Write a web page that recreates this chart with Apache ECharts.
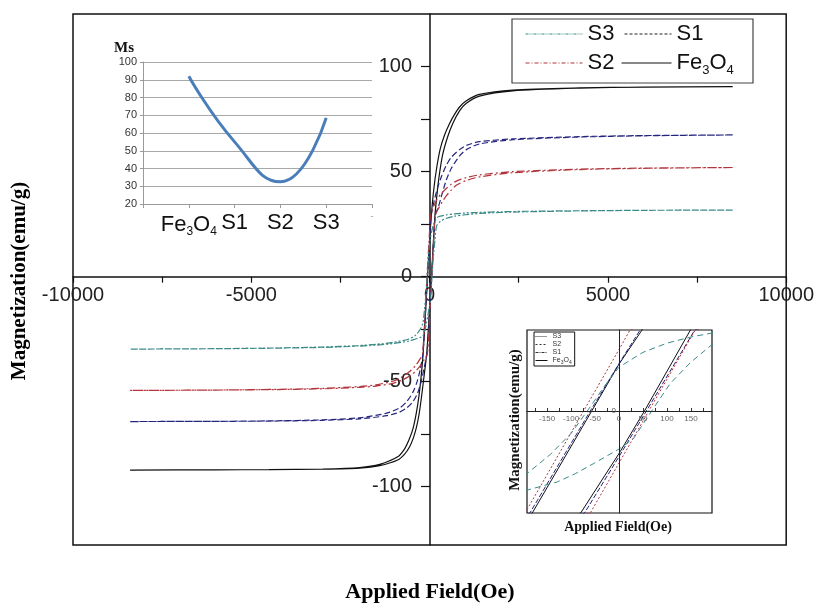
<!DOCTYPE html>
<html>
<head>
<meta charset="utf-8">
<script src="https://cdn.jsdelivr.net/npm/echarts@6/dist/echarts.min.js"></script>
<style>
  html, body { margin: 0; padding: 0; background: #fff; }
  #chart { width: 817px; height: 610px; }
</style>
</head>
<body>
<div id="chart"></div>
<script>
  // hysteresis loops: [field (Oe), magnetization (emu/g)]
  // "down" = field sweeping from + to -, "up" = field sweeping from - to +
  const fe3o4Down = [[8500, 90.5], [6000, 90.3], [4200, 89.9], [2330, 88.9], [1400, 86.8], [1030, 83.8], [840, 80.8], [700, 77.3], [560, 73], [420, 67.5], [300, 61], [200, 52], [120, 42], [48, 29], [0, 16.8], [-57, 0], [-181, -36.5], [-240, -48], [-300, -57], [-373, -65], [-460, -72], [-560, -77], [-700, -82], [-896, -85.8], [-1400, -89.4], [-1960, -90.9], [-3000, -91.6], [-4500, -91.9], [-6000, -92], [-8400, -92.1]]
  const fe3o4Up = [[-8400, -92.1], [-6000, -92], [-4500, -91.9], [-3000, -91.7], [-1960, -91.2], [-1400, -90], [-896, -87.3], [-700, -84.5], [-560, -81], [-460, -77], [-373, -72], [-300, -66], [-240, -59], [-160, -48], [-80, -36.5], [0, -15.2], [53, 0], [149, 29], [200, 38], [260, 47], [365, 58], [505, 66.5], [650, 73], [840, 79], [1030, 82.6], [1400, 86], [2330, 88.5], [4200, 89.8], [6000, 90.3], [8500, 90.5]]

  const s1Down = [[8500, 67.5], [6000, 67.2], [4200, 66.7], [2330, 65.6], [1400, 64.3], [1030, 62.5], [840, 60.5], [607, 56.8], [467, 53], [327, 47.5], [200, 41], [100, 34], [44, 29], [0, 17], [-60, 0], [-186, -36.5], [-260, -44], [-350, -50], [-467, -55], [-640, -59.5], [-840, -62.5], [-1200, -65], [-1960, -67.2], [-3000, -68.2], [-4500, -68.7], [-6000, -68.9], [-8400, -69]]
  const s1Up = [[-8400, -69], [-6000, -68.9], [-4500, -68.8], [-3000, -68.4], [-1960, -67.7], [-1200, -66.2], [-840, -64.5], [-640, -62.5], [-467, -59.5], [-350, -56], [-260, -51.5], [-160, -44], [-72, -36.5], [0, -16.3], [57, 0], [158, 29], [252, 33.5], [327, 38], [467, 46], [607, 51.5], [840, 57.5], [1030, 60.5], [1400, 63.2], [2330, 65.2], [4200, 66.5], [6000, 67.1], [8500, 67.5]]

  const s2Down = [[8500, 52], [6000, 51.7], [4200, 51.2], [2330, 50], [1400, 48.5], [1030, 47.2], [750, 45.5], [607, 44], [467, 42], [300, 39], [200, 36.5], [100, 33], [23, 29], [0, 22], [-74, 0], [-196, -36.5], [-280, -39.5], [-400, -42.5], [-560, -45.2], [-800, -48], [-1030, -49.8], [-1500, -51.5], [-1960, -52.3], [-3000, -53.2], [-4500, -53.7], [-6000, -54], [-8400, -54.2]]
  const s2Up = [[-8400, -54.2], [-6000, -54], [-4500, -53.8], [-3000, -53.4], [-1960, -52.7], [-1500, -52.1], [-1030, -50.8], [-800, -49.5], [-560, -47.3], [-400, -45.2], [-280, -42.8], [-150, -39.5], [-60, -36.5], [0, -18.6], [62, 0], [159, 29], [250, 32.5], [350, 35.5], [467, 38.5], [607, 41.2], [750, 43.5], [1030, 45.8], [1400, 47.5], [2330, 49.5], [4200, 51], [6000, 51.6], [8500, 52]]

  const s3Down = [[8500, 31.7], [6000, 31.6], [4200, 31.4], [3000, 31.2], [2000, 30.9], [1400, 30.6], [1000, 30.3], [700, 29.9], [467, 29.4], [300, 28.8], [197, 28], [150, 26.5], [100, 24.3], [50, 21], [0, 15.7], [-30, 9], [-60, 1.5], [-100, -8], [-143, -15.5], [-192, -22.4], [-280, -25.5], [-400, -28], [-600, -29.8], [-1030, -31.3], [-1500, -32.2], [-2000, -32.8], [-3000, -33.5], [-4500, -34], [-6000, -34.3], [-8400, -34.5]]
  const s3Up = [[-8400, -34.5], [-6000, -34.3], [-4500, -34.1], [-3000, -33.7], [-2000, -33.1], [-1500, -32.6], [-1030, -31.9], [-600, -30.7], [-400, -29.7], [-280, -29], [-192, -28.3], [-129, -25.4], [-91, -22.4], [-53, -18.8], [0, -13.6], [30, -9.9], [68, 0], [107, 9.9], [150, 17.5], [197, 24.2], [300, 26.3], [467, 27.8], [700, 28.8], [1000, 29.5], [1400, 30.1], [2000, 30.6], [3000, 31], [4200, 31.3], [6000, 31.6], [8500, 31.7]]

  // Ms inset (top left)
  const msCategories = ['Fe3O4', 'S1', 'S2', 'S3']
  const msValues = [92, 55, 32.5, 68.5]

  // ticks / labels
  const mainYTicks = [-100, -75, -50, -25, 0, 25, 50, 75, 100]
  const mainYLabels = [-100, -50, 0, 50, 100]
  const insetXTicks = [-175, -150, -125, -100, -75, -50, -25, 0, 25, 50, 75, 100, 125, 150, 175]
  const insetXLabels = [-150, -100, -50, 0, 50, 100, 150]
  const insetYLabels = [0]

  const sans = 'Liberation Sans'

  const col = { fe: '#111111', s1: '#24247e', s2: '#b2343c', s3: '#3a8a86' }

  const chart = echarts.init(document.getElementById('chart'))

  function subName(name) {
    return name === 'Fe3O4' ? '{n|Fe}{s|3}{n|O}{s|4}' : '{n|' + name + '}'
  }

  function loop(down, up) {
    return down.concat(up)
  }

  const loops = [
    { name: 'Fe3O4', data: loop(fe3o4Down, fe3o4Up), color: col.fe, main: 'solid', inset: 'solid' },
    { name: 'S1', data: loop(s1Down, s1Up), color: col.s1, main: [6, 3], inset: [5, 2] },
    { name: 'S2', data: loop(s2Down, s2Up), color: col.s2, main: [8, 3, 2, 3], inset: [2, 2] },
    { name: 'S3', data: loop(s3Down, s3Up), color: col.s3, main: [7, 2, 2, 2, 2, 2], inset: [6, 4] }
  ]

  const series = []
  loops.forEach(l => {
    series.push({
      name: l.name, type: 'line', xAxisIndex: 0, yAxisIndex: 0,
      data: l.data, symbol: 'none', smooth: 0.25,
      itemStyle: { color: l.color },
      lineStyle: { color: l.color, width: 1.2, type: l.main }
    })
    series.push({
      name: l.name, type: 'line', xAxisIndex: 1, yAxisIndex: 1,
      data: l.data, symbol: 'none', clip: true, z: 5,
      itemStyle: { color: l.color },
      lineStyle: { color: l.color, width: 1, type: l.inset }
    })
  })
  series.push({
    name: 'Ms', type: 'line', xAxisIndex: 2, yAxisIndex: 2,
    data: ['-'].concat(msValues, ['-']),
    symbol: 'none', smooth: 0.5,
    lineStyle: { color: '#4a7ebb', width: 3 }
  })

  const legendText = {
    fontFamily: sans,
    rich: {
      n: { fontSize: 22, color: '#111', fontFamily: sans },
      s: { fontSize: 13, color: '#111', fontFamily: sans, padding: [14, 0, 0, 0] }
    }
  }

  // one legend per entry of the big legend box so every sample line can have its own length
  function bigLegend(name, left, top, width, lineStyle) {
    return {
      left: left, top: top, itemWidth: width, itemHeight: 14, padding: 0,
      selectedMode: false, itemStyle: { opacity: 0 },
      data: [{ name: name, lineStyle: lineStyle }],
      formatter: subName, textStyle: legendText
    }
  }

  const option = {
    animation: false,
    backgroundColor: '#fff',
    grid: [
      { left: 73, top: 14, width: 714, height: 531, show: true, borderColor: '#111', borderWidth: 1.5, backgroundColor: 'transparent' },
      { left: 527, top: 330, width: 185, height: 183, show: true, borderColor: '#111', borderWidth: 1.2, backgroundColor: '#fff', z: 3 },
      { left: 143, top: 62, width: 229, height: 142, show: false }
    ],
    xAxis: [
      {
        // axis drawn across the middle of the frame (at y = 0)
        gridIndex: 0, type: 'value', min: -10000, max: 10000, interval: 2500, offset: -268.3,
        axisLine: { onZero: false, lineStyle: { color: '#111', width: 1.5 } },
        axisTick: { length: 6, lineStyle: { color: '#111', width: 1.2 } },
        axisLabel: {
          fontSize: 20, color: '#222', fontFamily: sans, margin: 9,
          formatter: v => (v % 5000 === 0 ? String(v) : '')
        },
        splitLine: { show: false }
      },
      {
        gridIndex: 1, type: 'value', min: -192, max: 194, z: 6, offset: -102,
        axisLine: { onZero: false, lineStyle: { color: '#222', width: 1 } },
        axisTick: { customValues: insetXTicks, inside: true, length: 3, lineStyle: { color: '#333' } },
        axisLabel: { customValues: insetXLabels, fontSize: 8, color: '#666', fontFamily: sans, margin: 4 },
        splitLine: { show: false }
      },
      {
        gridIndex: 2, type: 'category', boundaryGap: false,
        data: [''].concat(msCategories, ['-']),
        axisLine: { lineStyle: { color: '#9a9a9a' } },
        axisTick: { show: true, length: 4, lineStyle: { color: '#9a9a9a' } },
        axisLabel: {
          interval: 0, margin: 8,
          formatter: v => (v === '-' ? '{d|-}' : subName(v)),
          rich: {
            n: { fontSize: 22, color: '#111', fontFamily: sans },
            s: { fontSize: 12, color: '#111', fontFamily: sans, padding: [14, 0, 0, 0] },
            d: { fontSize: 9, color: '#999', fontFamily: sans }
          }
        }
      }
    ],
    yAxis: [
      {
        gridIndex: 0, type: 'value', min: -127.8, max: 125.1, offset: -357,
        axisLine: { onZero: false, lineStyle: { color: '#111', width: 1.5 } },
        axisTick: { customValues: mainYTicks, length: 9, lineStyle: { color: '#111', width: 1.2 } },
        axisLabel: { customValues: mainYLabels, fontSize: 20, color: '#222', fontFamily: sans, margin: 18 },
        splitLine: { show: false }
      },
      {
        gridIndex: 1, type: 'value', min: -36.5, max: 29, z: 6, offset: -92,
        axisLine: { onZero: false, lineStyle: { color: '#222', width: 1 } },
        axisTick: { show: false },
        axisLabel: { customValues: insetYLabels, fontSize: 8, color: '#555', fontFamily: sans, margin: 3 },
        splitLine: { show: false }
      },
      {
        gridIndex: 2, type: 'value', min: 20, max: 100, interval: 10,
        axisLine: { show: true, lineStyle: { color: '#9a9a9a' } },
        axisTick: { show: true, length: 3, lineStyle: { color: '#9a9a9a' } },
        axisLabel: { fontSize: 11, color: '#333', fontFamily: sans, margin: 6 },
        splitLine: { lineStyle: { color: '#a8a8a8', width: 1 } }
      }
    ],
    legend: [
      bigLegend('S3', 525, 23, 57, { color: col.s3, type: [3, 1, 1, 1, 1, 1], width: 1 }),
      bigLegend('S1', 624, 23, 47, { color: '#222', type: [3, 2], width: 1 }),
      bigLegend('S2', 525, 52, 57, { color: col.s2, type: [4, 2, 1, 2], width: 1 }),
      bigLegend('Fe3O4', 621, 52, 50, { color: '#111', type: 'solid', width: 1 }),
      {
        orient: 'vertical', left: 534, top: 332, itemWidth: 12, itemHeight: 6, itemGap: 1,
        padding: [1, 3, 1, 1], borderColor: '#111', borderWidth: 1, backgroundColor: '#fff',
        selectedMode: false, z: 8, itemStyle: { opacity: 0 },
        data: [
          { name: 'S3', lineStyle: { color: '#333', type: [1, 1], width: 1 } },
          { name: 'S2', lineStyle: { color: '#333', type: [2, 2], width: 1 } },
          { name: 'S1', lineStyle: { color: '#333', type: [3, 1, 1, 1], width: 1 } },
          { name: 'Fe3O4', lineStyle: { color: '#111', type: 'solid', width: 1 } }
        ],
        formatter: subName,
        textStyle: {
          rich: {
            n: { fontSize: 7, color: '#333', fontFamily: sans },
            s: { fontSize: 5, color: '#333', fontFamily: sans, padding: [4, 0, 0, 0] }
          }
        }
      }
    ],
    graphic: [
      {
        type: 'rect', z: 10, silent: true,
        shape: { x: 512, y: 19, width: 241, height: 64 },
        style: { fill: 'none', stroke: '#444', lineWidth: 1.2 }
      },
      {
        type: 'text', x: 20, y: 281, rotation: Math.PI / 2, z: 10,
        style: { text: 'Magnetization(emu/g)', font: 'bold 21px "Liberation Serif"', fill: '#000', align: 'center', verticalAlign: 'middle' }
      },
      {
        type: 'text', x: 430, y: 592, z: 10,
        style: { text: 'Applied Field(Oe)', font: 'bold 22px "Liberation Serif"', fill: '#000', align: 'center', verticalAlign: 'middle' }
      },
      {
        type: 'text', x: 515, y: 420, rotation: Math.PI / 2, z: 10,
        style: { text: 'Magnetization(emu/g)', font: 'bold 15px "Liberation Serif"', fill: '#111', align: 'center', verticalAlign: 'middle' }
      },
      {
        type: 'text', x: 618, y: 527, z: 10,
        style: { text: 'Applied Field(Oe)', font: 'bold 14px "Liberation Serif"', fill: '#111', align: 'center', verticalAlign: 'middle' }
      },
      {
        type: 'text', x: 124, y: 48, z: 10,
        style: { text: 'Ms', font: 'bold 15px "Liberation Serif"', fill: '#111', align: 'center', verticalAlign: 'middle' }
      }
    ],
    series: series
  }

  chart.setOption(option)
</script>
</body>
</html>
